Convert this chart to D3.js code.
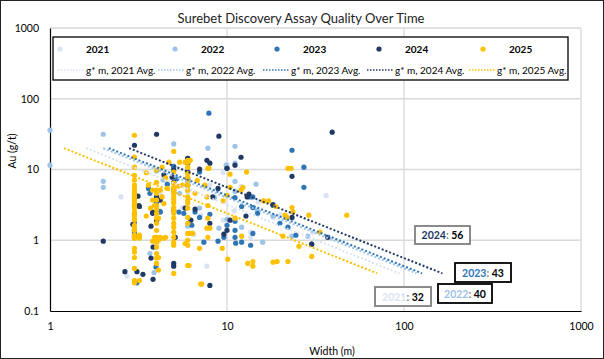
<!DOCTYPE html>
<html>
<head>
<meta charset="utf-8">
<script src="https://cdn.jsdelivr.net/npm/d3@7"></script>
<style>
  body { margin: 0; background: #fff; }
  svg { display: block; font-family: Lato, "Liberation Sans", sans-serif; }
</style>
</head>
<body>
<svg id="chart" width="604" height="359"></svg>
<script>
// DATA
const years = ["2021", "2022", "2023", "2024", "2025"];
const colors = ["#dae3f3", "#9dc3e6", "#2e75b6", "#203864", "#ffc000"];
const avgGM = [32, 40, 43, 56, 24]; // g*m average per year
const trendAuRange = [20, 0.34];     // trend lines drawn between these grades

// [width (m), Au (g/t)]
const pts2021 = [
  [2.52, 4.1], [2.72, 0.31], [7.7, 0.43], [36.3, 4.3], [13.6, 1.1], [13.6, 1.3],
  [7.1, 2.26], [9.5, 1.92], [5.6, 2.9], [30.5, 1.3], [18.2, 2.1], [4.9, 7.8],
  [10, 11.9], [5, 5.0], [8, 6.0], [6, 4.8], [12, 5.8], [15, 3.5], [20, 2.3],
  [9.5, 9], [6.5, 1.2], [4.2, 4.4], [11, 2.6]
];
const pts2022 = [
  [1, 36], [1, 11.5], [2, 31.5], [2, 6.8], [2, 5.6], [5, 23], [7.8, 20],
  [11.1, 21.3], [9.9, 11.5], [11.1, 12.3], [11.1, 6.8], [14.6, 6.2], [11.1, 4.9],
  [4.35, 7.1], [4, 9.5], [6, 1.58], [3.67, 0.65], [3.97, 0.8], [3.87, 0.35],
  [14.8, 2.65], [15.9, 0.94], [23.3, 1.14], [28.6, 1.14], [10, 1.98], [12.1, 1.53],
  [9, 1.48], [7, 2.85], [18.2, 2.2], [5.4, 4.6], [8.5, 4.0]
];
const pts2023 = [
  [7.9, 62.5], [23.3, 18.7], [27.2, 10.8], [27.2, 5.6], [5, 11.1], [6, 14.4],
  [10, 10.4], [7, 9.2], [3.67, 4.6], [4.18, 2.57], [3, 3.1], [3, 1.8], [3, 1.38],
  [3, 4.1], [3, 1.1], [3, 2.33], [3, 1.3], [3, 1.18], [4, 3.45], [4.2, 2.5],
  [5.35, 2.5], [5.7, 2.4], [6.6, 2.5], [7, 2.1], [8, 2.33], [8.9, 0.97], [7.4, 0.94],
  [10, 1.63], [11.1, 1.86], [11.1, 1.38], [11.1, 1.1], [11.2, 0.91], [12.1, 0.94],
  [13.6, 0.85], [12.1, 3.0], [14, 2.9], [14.9, 2.4], [19.9, 1.74], [22.1, 1.53],
  [24.5, 1.18], [18.2, 3.1], [13.5, 4.1], [14, 1.25], [3.1, 0.25], [3.97, 0.42],
  [9.6, 1.1], [6.33, 1.63], [5, 10.8], [11.1, 4.0], [14, 4.1], [30.1, 0.88],
  [4.6, 6.2], [5.2, 7.4], [3.6, 5.4]
];
const pts2024 = [
  [4, 31.5], [3, 22], [9, 29.6], [39.3, 33.7], [7.7, 13.5], [8, 12.3], [7, 10.1],
  [10, 10.4], [11.1, 11.5], [12, 14.9], [4.9, 7.8], [6, 7.3], [5, 9.8], [3.14, 4.2],
  [4, 4.1], [4.2, 3.7], [8.3, 4.1], [8.9, 5.4], [3.18, 3.1], [3.8, 2.5], [2.94, 1.68],
  [3.72, 1.58], [4, 1.92], [5.1, 1.1], [8, 1.74], [6.25, 1.92], [9.6, 1.22],
  [10, 1.38], [10.4, 1.92], [12.8, 2.2], [13.3, 4.5], [13, 4.1], [18.2, 3.2],
  [23.3, 2.1], [30.1, 0.88], [37.1, 1.1], [23.3, 8.0], [2, 0.97], [2.65, 0.36],
  [3.1, 0.36], [3.35, 0.33], [3.82, 0.28], [3.72, 0.56], [3.82, 0.8], [5, 0.47],
  [5, 0.43], [8, 0.23], [5, 2.65], [5.8, 2.85], [6.6, 2.75], [6, 14.4], [6, 12.3],
  [6, 9.2], [6, 6], [3.2, 3.0], [3.8, 2.4], [5, 6.6], [5, 5.1], [4.4, 8.4]
];
const pts2025 = [
  [3, 30.5], [3, 15], [3, 10.8], [3, 8.3], [3, 7.1], [3, 6], [3, 5.5], [3, 5.1],
  [3, 4.6], [3, 4.4], [3, 4.1], [3, 3.7], [3, 3.4], [3, 3.1], [3, 2.85], [3, 2.5],
  [3, 2.26], [3, 2.0], [3, 1.92], [3, 1.63], [3, 1.5], [3, 1.38], [3, 1.18],
  [3, 1.07], [3, 0.77], [3, 0.68], [3, 0.57], [3, 0.4], [3, 0.27], [3, 0.25],
  [3.2, 1.18], [3.2, 1.07], [3.2, 0.27],
  [4, 9.8], [4, 6.6], [4, 5.1], [4, 4.6], [4, 3.7], [4, 3.1], [4, 2.75], [4, 2.4],
  [4, 2.05], [4, 1.74], [4, 1.38], [4, 1.1], [4, 0.94], [4, 0.8], [4, 0.65],
  [4, 0.56], [4, 0.47], [3.8, 5.1], [4.2, 5.1], [4.3, 4.1], [3.8, 3.7], [3.9, 3.1],
  [3.7, 2.85], [4.1, 2.05], [4.2, 1.1], [4.5, 1.1], [3.9, 1.1], [3.8, 0.97],
  [4.1, 1.0], [4.1, 0.57], [4.1, 0.38], [4.2, 1.07], [4.4, 1.07], [4.3, 10.8],
  [3.5, 9.0], [3.6, 6.0], [4.5, 7.6], [4.6, 5.4], [4.4, 3.3], [3.5, 2.2],
  [5, 18], [5, 9.2], [5, 6.4], [5, 5.6], [5, 5.1], [5, 4.6], [5, 4.1], [5, 3.7],
  [5, 3.35], [5, 2.9], [5, 2.65], [5, 2.4], [5, 2.05], [5, 1.74], [5, 1.53],
  [5, 1.3], [5, 1.1], [5, 0.94], [5, 0.85], [5, 0.34], [4.7, 12.7],
  [6, 13.5], [6, 12.7], [6, 10.8], [6, 8.8], [6, 7.8], [6, 6.8], [6, 6.0], [6, 5.1],
  [6, 4.1], [6, 3.7], [6, 3.35], [6, 2.85], [6, 2.1], [6, 1.74], [6, 1.25], [6, 1.0],
  [6, 0.85], [6, 0.44], [5.8, 12.7], [6.2, 13.5], [5.4, 12.7], [6.1, 0.44],
  [5.3, 5.8], [5.6, 6], [6.4, 1.25], [6.2, 1.25], [5.8, 0.9], [6.8, 7.0], [6.6, 4.6],
  [7.8, 10.4], [7.5, 6.0], [7.7, 4.1], [7.8, 3.1], [7.8, 2.05], [7.7, 1.48],
  [8, 1.48], [7.8, 1.1], [7.0, 0.77], [7.2, 0.24], [7.1, 0.24], [7.9, 10.4],
  [9.5, 3.6], [10, 4.3], [10.4, 5.6], [12, 5.1], [12.3, 5.6], [12.9, 9.2],
  [10.4, 8.6], [10.1, 0.54], [9.4, 0.77], [11.1, 2.05], [12.1, 1.14], [13.1, 0.47],
  [14, 0.5], [14, 0.43], [16.1, 3.6], [17.2, 3.6], [18.9, 3.0], [18.2, 0.49],
  [19.2, 0.5], [20.7, 1.14], [22.1, 0.5], [21.3, 2.26], [21.8, 2.1], [22.1, 10.4],
  [23, 10.4], [23.3, 2.9], [23.6, 2.5], [25.5, 0.82], [29, 2.26], [30.1, 0.59],
  [33.5, 1.3], [47.5, 2.26]
];
const series = [pts2021, pts2022, pts2023, pts2024, pts2025];

const xTicks = [1, 10, 100, 1000];
const yTicks = [0.1, 1, 10, 100, 1000];

// annotation labels for the average lines (year index, box position)
const labels = [
  { i: 3, x: 415, y: 226, w: 55, h: 18, stroke: "#7f7f7f" },
  { i: 2, x: 455, y: 263, w: 56, h: 19, stroke: "#000" },
  { i: 1, x: 438, y: 284, w: 54, h: 19, stroke: "#000" },
  { i: 0, x: 375, y: 287, w: 56, h: 19, stroke: "#7f7f7f" }
];

// CANVAS SETUP
const svg = d3.select("#chart");
const W = 604, H = 359;
const plot = { left: 50, right: 581, top: 28, bottom: 311 };

svg.append("rect")
  .attr("x", 0.5).attr("y", 0.5)
  .attr("width", W - 1).attr("height", H - 1)
  .attr("fill", "#fff").attr("stroke", "#222");

const x = d3.scaleLog().domain([1, 1000]).range([plot.left, plot.right]);
const y = d3.scaleLog().domain([0.1, 1000]).range([plot.bottom, plot.top]);

// grid
svg.append("g").selectAll("line")
  .data(xTicks.slice(1))
  .join("line")
  .attr("x1", (d) => x(d)).attr("x2", (d) => x(d))
  .attr("y1", plot.top).attr("y2", plot.bottom)
  .attr("stroke", "#d9d9d9").attr("stroke-width", 1.3);
svg.append("g").selectAll("line")
  .data(yTicks.slice(1))
  .join("line")
  .attr("x1", plot.left).attr("x2", plot.right)
  .attr("y1", (d) => y(d)).attr("y2", (d) => y(d))
  .attr("stroke", "#d9d9d9").attr("stroke-width", 1.3);

// axes
const gx = svg.append("g")
  .attr("transform", `translate(0,${plot.bottom})`)
  .call(d3.axisBottom(x).tickValues(xTicks).tickFormat(d3.format("d")).tickSize(0).tickPadding(12));
const gy = svg.append("g")
  .attr("transform", `translate(${plot.left},0)`)
  .call(d3.axisLeft(y).tickValues(yTicks).tickFormat((d) => String(d)).tickSize(0).tickPadding(11));
[gx, gy].forEach((g) => {
  g.select(".domain").attr("stroke", "#000").attr("stroke-width", 1.2);
  g.selectAll("text").attr("font-size", 10.5).attr("fill", "#000")
    .attr("font-family", "Lato, 'Liberation Sans', sans-serif");
});

svg.append("text")
  .attr("x", 332).attr("y", 355)
  .attr("text-anchor", "middle").attr("font-size", 10.5)
  .text("Width (m)");
svg.append("text")
  .attr("transform", "translate(16,151) rotate(-90)")
  .attr("text-anchor", "middle").attr("font-size", 10.5)
  .text("Au (g/t)");
svg.append("text")
  .attr("x", 301).attr("y", 23)
  .attr("text-anchor", "middle").attr("font-size", 13).attr("fill", "#222")
  .text("Surebet Discovery Assay Quality Over Time");

// points
const gp = svg.append("g");
series.forEach((pts, i) => {
  gp.append("g").selectAll("circle")
    .data(pts)
    .join("circle")
    .attr("cx", (d) => x(d[0]))
    .attr("cy", (d) => y(d[1]))
    .attr("r", 2.6)
    .attr("fill", colors[i]);
});

// average g*m lines: Au = avg / width
const line = d3.line().x((d) => x(d[0])).y((d) => y(d[1]));
avgGM.forEach((c, i) => {
  const pts = trendAuRange.map((au) => [c / au, au]);
  svg.append("path")
    .attr("d", line(pts))
    .attr("fill", "none")
    .attr("stroke", colors[i])
    .attr("stroke-width", 2)
    .attr("stroke-dasharray", "2,2");
});

// legend
const lg = svg.append("g");
lg.append("rect")
  .attr("x", 53).attr("y", 37).attr("width", 515).attr("height", 43)
  .attr("fill", "#fff").attr("stroke", "#000").attr("stroke-width", 1.3);
const legendMarkX = [60, 175, 277, 379, 483];
const legendLineX = [58, 158, 263, 367, 469];
years.forEach((yr, i) => {
  lg.append("circle")
    .attr("cx", legendMarkX[i]).attr("cy", 49).attr("r", 2.6).attr("fill", colors[i]);
  lg.append("text")
    .attr("x", legendMarkX[i] + 26).attr("y", 53)
    .attr("font-size", 10).attr("font-weight", "bold")
    .text(yr);
  lg.append("line")
    .attr("x1", legendLineX[i]).attr("x2", legendLineX[i] + 26)
    .attr("y1", 70).attr("y2", 70)
    .attr("stroke", colors[i]).attr("stroke-width", 1.5)
    .attr("stroke-dasharray", "1.5,1.5");
  lg.append("text")
    .attr("x", legendLineX[i] + 28).attr("y", 74)
    .attr("font-size", 10)
    .text(`g* m, ${yr} Avg.`);
});

// annotation boxes
const ga = svg.append("g");
labels.forEach((l) => {
  ga.append("rect")
    .attr("x", l.x).attr("y", l.y).attr("width", l.w).attr("height", l.h)
    .attr("fill", "#fff").attr("stroke", l.stroke).attr("stroke-width", 1.8);
  const t = ga.append("text")
    .attr("x", l.x + l.w / 2).attr("y", l.y + l.h / 2 + 4)
    .attr("text-anchor", "middle").attr("font-size", 10.5).attr("font-weight", "bold");
  t.append("tspan").attr("fill", colors[l.i]).text(years[l.i]);
  t.append("tspan").attr("fill", "#7f7f7f").text(": ");
  t.append("tspan").attr("fill", "#000").text(avgGM[l.i]);
});
</script>
</body>
</html>
